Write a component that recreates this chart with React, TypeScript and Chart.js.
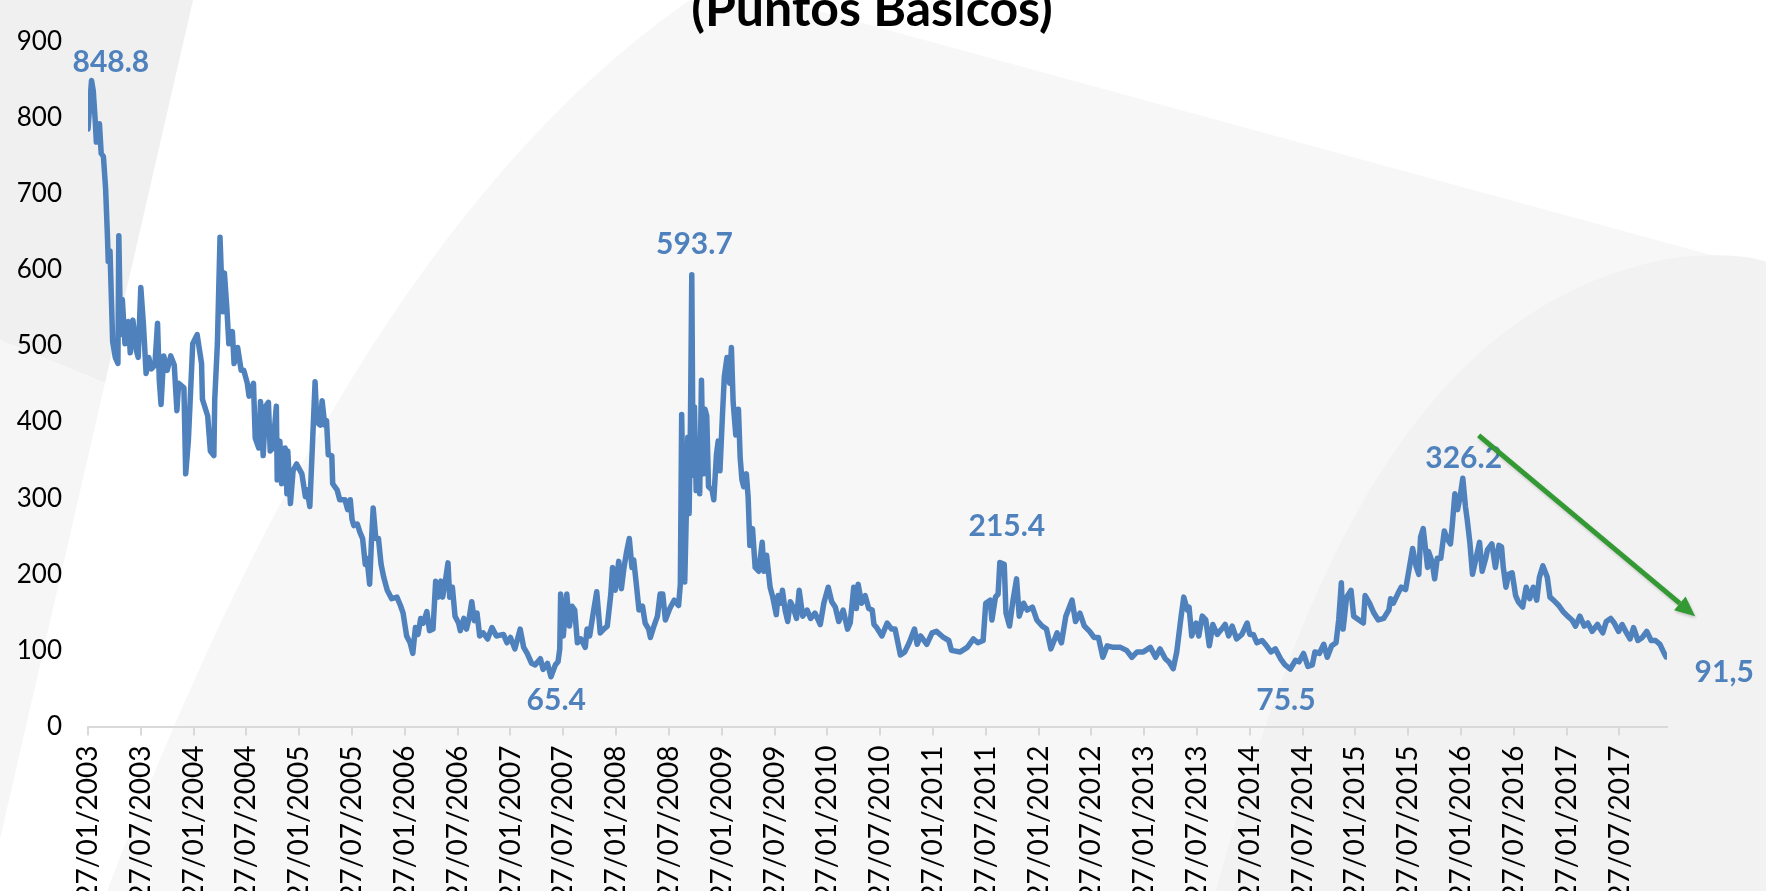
import React, { useEffect, useRef } from "react";
import { Chart, registerables } from "chart.js";
Chart.register(...registerables);

const CANVAS_W = 1766;
const CANVAS_H = 960;
const VIEW_H = 891;

const tickLabels = [
  "27/01/2003", "27/07/2003", "27/01/2004", "27/07/2004", "27/01/2005", "27/07/2005",
  "27/01/2006", "27/07/2006", "27/01/2007", "27/07/2007", "27/01/2008", "27/07/2008",
  "27/01/2009", "27/07/2009", "27/01/2010", "27/07/2010", "27/01/2011", "27/07/2011",
  "27/01/2012", "27/07/2012", "27/01/2013", "27/07/2013", "27/01/2014", "27/07/2014",
  "27/01/2015", "27/07/2015", "27/01/2016", "27/07/2016", "27/01/2017", "27/07/2017",
];
// months since 27/01/2003 for each tick label
const tickMonths = [
  0, 6, 12, 18, 24, 30, 36, 42, 48, 54, 60, 66, 72, 78, 84, 90, 96, 102, 108, 114,
  120, 126, 132, 138, 144, 150, 156, 162, 168, 174,
];

// series: months since 27/01/2003
const months = [
  0, 0.4, 0.6, 0.8, 0.95, 1.3, 1.5, 1.75, 2.0, 2.2, 2.3, 2.5, 2.8, 3.1, 3.4, 3.5, 3.7, 3.9, 4.2, 4.6,
  4.8, 5.1, 5.5, 5.7, 6.0, 6.3, 6.6, 6.9, 7.2, 7.6, 7.9, 8.1, 8.3, 8.6, 9.0, 9.4, 9.8, 10.1, 10.3, 10.9,
  11.1, 11.4, 11.9, 12.4, 12.9, 13.0, 13.6, 13.9, 14.3, 14.4, 14.7, 15.0, 15.3, 15.5, 15.8, 16.0, 16.4, 16.6, 17.0, 17.4,
  17.7, 18.1, 18.3, 18.8, 19.0, 19.4, 19.6, 19.9, 20.2, 20.5, 20.7,
  21.0, 21.4, 21.5, 21.8, 22.0, 22.4, 22.6, 22.7, 23.0, 23.3, 23.7, 24.3, 24.7, 24.9, 25.2, 25.5, 25.8, 26.0, 26.4, 26.6,
  26.9, 27.1, 27.3, 27.7, 27.8, 28.3, 28.6, 29.2, 29.5, 29.8, 30.0, 30.2, 30.6, 30.9, 31.2, 31.5, 31.7, 32.0, 32.2, 32.4,
  32.7, 33.0, 33.3, 33.6, 34.0, 34.5, 35.1, 35.5, 35.8, 36.2, 36.6, 36.9, 37.2, 37.5, 37.8, 38.1, 38.5, 38.8, 39.2, 39.5,
  39.8, 40.1, 40.3, 40.6, 40.9, 41.1, 41.4, 41.7, 42.1, 42.3, 42.7, 43.0, 43.3, 43.6, 43.9, 44.2, 44.5, 44.9, 45.4, 45.9,
  46.4, 47.2, 47.6, 48.0, 48.5, 49.1, 49.5, 49.9, 50.4, 50.8, 51.4, 51.7, 52.2, 52.6, 53.1, 53.4, 53.6, 53.7, 54.0, 54.4,
  54.7, 55.0, 55.3, 55.6, 56.0, 56.5, 56.7, 57.0, 57.4, 57.8, 58.2, 58.6, 59.0, 59.4, 59.6, 59.9, 60.3, 60.6, 60.9, 61.2,
  61.5, 61.8, 62.0, 62.3, 62.6, 63.0, 63.3, 63.7, 63.9, 64.3, 64.7, 65.0, 65.3, 65.6, 66.1, 66.6, 67.1, 67.3,
  67.45, 67.65, 67.8, 68.0, 68.15, 68.3, 68.45, 68.6, 68.75, 68.9, 69.1, 69.3,
  69.5, 69.7, 69.9, 70.1, 70.3, 70.5, 70.9, 71.1, 71.4, 71.6, 71.8, 72.1, 72.3, 72.6, 72.9, 73.1, 73.3, 73.6, 73.9, 74.1,
  74.3, 74.5, 74.8, 75.0, 75.2, 75.5, 75.8, 76.2, 76.6, 76.8, 77.1, 77.5, 77.8, 78.2, 78.4, 78.7, 78.9, 79.2, 79.5, 79.8,
  80.1, 80.5, 80.8, 81.2, 81.7, 82.1, 82.6, 83.2, 83.6, 84.1, 84.5, 84.9, 85.3, 85.8, 86.3, 86.6, 87.0, 87.3, 87.5, 87.9,
  88.3, 88.7, 89.1, 89.3, 89.6, 90.2, 90.8, 91.3,
  91.7, 92.3, 92.8, 93.3, 93.9, 94.2, 94.6, 95.3, 95.9, 96.4, 97.2, 97.8, 98.1, 99.1, 99.9, 100.6, 101.1, 101.7, 102.0, 102.5,
  102.7, 103.1, 103.4, 103.6, 104.1, 104.3, 104.7, 105.1, 105.5, 105.8, 106.3, 106.7, 107.3, 107.8, 108.4, 108.9, 109.4, 110.1, 110.6, 111.1,
  111.8, 112.2, 112.7, 113.2, 113.8, 114.3, 114.8, 115.3, 115.8, 116.5, 117.3, 118.0, 118.6, 119.2, 119.9, 120.7, 121.3,
  121.8, 122.4, 122.8, 123.3, 123.7, 124.2, 124.5, 124.9, 125.1, 125.4, 125.9, 126.2, 126.6, 127.0, 127.4, 127.8, 128.3, 128.8, 129.2, 129.6,
  130.0, 130.5, 131.1, 131.7, 132.0, 132.4, 132.8, 133.4, 133.9, 134.4, 134.9, 135.5, 136.0, 136.6, 137.2, 137.6, 138.1, 138.6, 139.1, 139.4,
  139.9, 140.4, 140.8, 141.3, 141.8, 142.1, 142.4, 142.6, 143.0, 143.5, 143.8, 144.4, 144.9, 145.1, 145.6, 146.1, 146.6, 147.2, 147.8, 148.0,
  148.3, 148.8, 149.2, 149.7, 150.0, 150.5, 150.9, 151.2, 151.4, 151.7, 152.2, 152.3, 152.7, 153.0, 153.3, 153.7, 154.1, 154.4, 154.8, 155.0,
  155.3, 155.6, 155.9, 156.2, 156.5, 156.7, 157.0, 157.3, 157.7, 158.1, 158.4, 158.8, 159.0, 159.5, 159.9, 160.3, 160.6, 160.8, 161.1, 161.4,
  161.8, 162.2, 162.5, 163.0, 163.4, 163.8, 164.2, 164.6, 164.9, 165.3, 165.8, 166.1, 166.5, 167.1, 167.6, 168.1, 168.6, 169.0, 169.5, 170.0,
  170.4, 170.9, 171.5, 172.1, 172.5, 173.0, 173.4, 173.9, 174.3, 174.8, 175.2, 175.6, 176.1, 176.6, 177.1, 177.6, 178.1, 178.6, 179.0, 179.3,
];

// spread in basis points
const spread = [
  785, 848.8, 835, 800, 768, 792, 753, 749, 707, 647, 611, 625, 506, 485, 477, 645, 515, 561, 503, 532,
  491, 534, 494, 485, 577, 528, 464, 485, 470, 475, 530, 455, 423, 487, 468, 487, 475, 415, 451, 445,
  332, 375, 503, 515, 477, 430, 408, 362, 356, 430, 503, 643, 545, 596, 545, 503, 519, 477, 498, 468,
  468, 451, 434, 451, 379, 366, 427, 356, 421, 426, 362,
  366, 421, 324, 375, 319, 366, 306, 362, 293, 336, 345, 332, 302, 311, 289, 370, 453, 400, 396, 428,
  396, 402, 357, 356, 319, 311, 298, 298, 285, 298, 272, 264, 266, 255, 247, 213, 221, 187, 242, 287,
  247, 247, 213, 196, 179, 168, 170, 159, 149, 119, 110, 96, 130, 121, 142, 136, 151, 126, 128, 191,
  170, 191, 170, 191, 215, 170, 183, 145, 136, 126, 142, 128, 142, 164, 139, 149, 119, 123, 115, 130,
  119, 121, 110, 117, 102, 128, 104, 96, 83, 81, 89, 75, 83, 65.4, 81, 85, 102, 174, 119, 174,
  132, 158, 153, 110, 115, 104, 128, 119, 149, 177, 123, 128, 132, 174, 209, 179, 217, 181, 209, 230,
  247, 209, 219, 187, 153, 158, 136, 128, 117, 132, 145, 174, 174, 140, 155, 166, 159, 187,
  410, 280, 190, 290, 380, 280, 400, 593.7, 330, 420, 310, 360,
  306, 455, 332, 417, 408, 315, 311, 298, 357, 375, 336, 413, 460, 485, 451, 498, 426, 383, 417, 353,
  324, 315, 332, 302, 238, 260, 209, 204, 242, 204, 225, 183, 170, 147, 172, 162, 179, 153, 138, 164,
  157, 142, 179, 145, 153, 142, 149, 134, 162, 183, 164, 157, 138, 153, 128, 136, 183, 155, 187, 162,
  172, 155, 153, 134, 130, 119, 136, 128,
  128, 94, 98, 110, 128, 108, 119, 108, 123, 125, 117, 113, 100, 98, 104, 115, 110, 113, 162, 166,
  140, 170, 174, 215.4, 213, 149, 132, 166, 194, 145, 162, 153, 157, 140, 132, 128, 102, 123, 110, 145,
  166, 138, 149, 132, 125, 117, 117, 91, 106, 104, 104, 100, 91, 98, 98, 104, 91,
  102, 89, 85, 76, 98, 145, 170, 153, 157, 119, 136, 119, 145, 140, 106, 134, 121, 128, 134, 119,
  132, 115, 121, 136, 121, 121, 110, 113, 106, 98, 102, 89, 81, 75.5, 87, 85, 96, 79, 81, 98,
  96, 108, 91, 106, 110, 140, 189, 128, 170, 179, 145, 140, 136, 172, 162, 149, 140, 142, 153, 168,
  162, 174, 183, 180, 200, 234, 210, 200, 249, 260, 209, 230, 217, 194, 221, 221, 257, 247, 240, 264,
  306, 285, 302, 326.2, 289, 272, 242, 200, 221, 242, 204, 221, 232, 240, 209, 238, 236, 209, 183, 200,
  202, 172, 164, 157, 183, 168, 183, 166, 196, 211, 196, 170, 166, 159, 151, 145, 140, 132, 145, 132,
  136, 125, 134, 123, 138, 142, 136, 125, 134, 123, 115, 130, 113, 117, 125, 113, 113, 108, 98, 91.5,
];

const labelTexts = ["848.8", "593.7", "65.4", "215.4", "75.5", "326.2", "91,5"];
const labelMonths = [2.6, 68.9, 53.2, 104.4, 136.1, 156.3, 185.9];
const labelValues = [873, 633, 35, 262.5, 35, 352, 71];

const arrowMonths = [158.0, 182.6];
const arrowValues = [382.6, 145];

const titleText = "(Puntos Básicos)";

const backgroundPlugin = {
  id: "slideBackground",
  beforeDraw(chart: any) {
    const ctx = chart.ctx as CanvasRenderingContext2D;
    const w = chart.width;
    const h = chart.height;
    const vh = VIEW_H;
    ctx.save();
    ctx.fillStyle = "#ffffff";
    ctx.fillRect(0, 0, w, h);
    // big soft shape
    ctx.fillStyle = "#f7f7f7";
    ctx.beginPath();
    ctx.moveTo(107, vh);
    ctx.bezierCurveTo(250, 520, 430, 180, 690, 0);
    ctx.lineTo(778, 0);
    ctx.lineTo(w, 270);
    ctx.lineTo(w, h);
    ctx.lineTo(100, h);
    ctx.closePath();
    ctx.fill();
    // bottom-right shape
    ctx.fillStyle = "#f2f2f2";
    ctx.beginPath();
    ctx.moveTo(1216, vh);
    ctx.bezierCurveTo(1290, 620, 1400, 300, 1680, 257);
    ctx.quadraticCurveTo(1740, 252, w, 262);
    ctx.lineTo(w, h);
    ctx.lineTo(1210, h);
    ctx.closePath();
    ctx.fill();
    // top-left wedge
    ctx.fillStyle = "#f0f0f0";
    ctx.beginPath();
    ctx.moveTo(0, 0);
    ctx.lineTo(193, 0);
    ctx.lineTo(105, 383);
    ctx.lineTo(0, 340);
    ctx.closePath();
    ctx.fill();
    // lower-left wedge
    ctx.fillStyle = "#f6f6f6";
    ctx.beginPath();
    ctx.moveTo(0, 340);
    ctx.lineTo(105, 383);
    ctx.lineTo(0, 839);
    ctx.closePath();
    ctx.fill();
    ctx.restore();
  },
};

const annotationPlugin = {
  id: "annotations",
  afterDraw(chart: any) {
    const ctx = chart.ctx as CanvasRenderingContext2D;
    const xs = chart.scales.x;
    const ys = chart.scales.y;
    ctx.save();
    // title (partly above the page top, as in the reference)
    ctx.fillStyle = "#000000";
    ctx.font = "bold 50px Lato";
    ctx.textAlign = "center";
    ctx.textBaseline = "alphabetic";
    ctx.fillText(titleText, 872, 26);

    // data labels
    ctx.fillStyle = "#4f81bd";
    ctx.font = "bold 30px Lato";
    ctx.textAlign = "center";
    ctx.textBaseline = "middle";
    labelTexts.forEach((t, i) => {
      ctx.fillText(t, xs.getPixelForValue(labelMonths[i]), ys.getPixelForValue(labelValues[i]));
    });

    // trend arrow
    const x1 = xs.getPixelForValue(arrowMonths[0]);
    const y1 = ys.getPixelForValue(arrowValues[0]);
    const x2 = xs.getPixelForValue(arrowMonths[1]);
    const y2 = ys.getPixelForValue(arrowValues[1]);
    const ang = Math.atan2(y2 - y1, x2 - x1);
    const headLen = 20;
    const headW = 9;
    const bx = x2 - headLen * Math.cos(ang);
    const by = y2 - headLen * Math.sin(ang);
    ctx.strokeStyle = "#339933";
    ctx.fillStyle = "#339933";
    ctx.lineWidth = 5;
    ctx.lineCap = "butt";
    ctx.shadowColor = "rgba(0,0,0,0.18)";
    ctx.shadowBlur = 3;
    ctx.shadowOffsetX = 1;
    ctx.shadowOffsetY = 2;
    ctx.beginPath();
    ctx.moveTo(x1, y1);
    ctx.lineTo(bx, by);
    ctx.stroke();
    ctx.beginPath();
    ctx.moveTo(x2, y2);
    ctx.lineTo(bx + headW * Math.sin(ang), by - headW * Math.cos(ang));
    ctx.lineTo(bx - headW * Math.sin(ang), by + headW * Math.cos(ang));
    ctx.closePath();
    ctx.fill();
    ctx.restore();
  },
};

export default function App() {
  const canvasRef = useRef<HTMLCanvasElement | null>(null);

  useEffect(() => {
    document.body.style.margin = "0";
    document.body.style.overflow = "hidden";
    const canvas = canvasRef.current;
    if (!canvas) return;
    const points = months.map((m, i) => ({ x: m, y: spread[i] }));
    const chart = new Chart(canvas, {
      type: "line",
      data: {
        datasets: [
          {
            data: points,
            borderColor: "#4f81bd",
            backgroundColor: "#4f81bd",
            borderWidth: 5.5,
            pointRadius: 0,
            tension: 0,
            fill: false,
            borderJoinStyle: "round",
            borderCapStyle: "round",
          },
        ],
      },
      options: {
        responsive: false,
        animation: false,
        devicePixelRatio: 1,
        layout: { padding: { left: 0, right: 99, top: 22.5, bottom: 0 } },
        plugins: {
          legend: { display: false },
          tooltip: { enabled: false },
          title: { display: false },
        },
        scales: {
          x: {
            type: "linear",
            min: 0,
            max: 179.4,
            afterBuildTicks: (scale: any) => {
              scale.ticks = tickMonths.map((v) => ({ value: v }));
            },
            afterFit: (scale: any) => {
              scale.height = CANVAS_H - 726.5;
            },
            ticks: {
              autoSkip: false,
              minRotation: 90,
              maxRotation: 90,
              padding: 10,
              color: "#000000",
              font: { family: "Lato", size: 28 },
              callback: (_v: any, i: number) => tickLabels[i],
            },
            grid: {
              display: true,
              drawOnChartArea: false,
              drawTicks: true,
              tickLength: 9,
              color: "#d9d9d9",
              lineWidth: 2,
            },
            border: { display: true, color: "#d9d9d9", width: 2 },
          },
          y: {
            min: 0,
            max: 900,
            afterFit: (scale: any) => {
              scale.width = 88;
            },
            ticks: {
              stepSize: 100,
              padding: 26,
              color: "#000000",
              font: { family: "Lato", size: 26 },
            },
            grid: { display: false, drawTicks: false },
            border: { display: false },
          },
        },
      },
      plugins: [backgroundPlugin, annotationPlugin],
    } as any);
    return () => chart.destroy();
  }, []);

  return (
    <div style={{ width: CANVAS_W, height: VIEW_H, overflow: "hidden", position: "relative" }}>
      <canvas
        ref={canvasRef}
        width={CANVAS_W}
        height={CANVAS_H}
        style={{ display: "block", width: CANVAS_W, height: CANVAS_H }}
      />
    </div>
  );
}
